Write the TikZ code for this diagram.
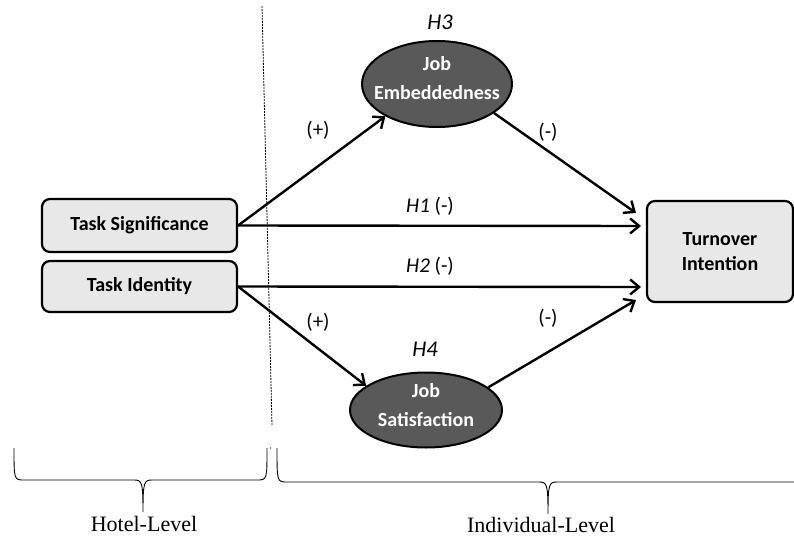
\documentclass[tikz,border=0pt]{standalone}
\usepackage{fontspec}
\setmainfont{Liberation Serif}
\newfontfamily\carlitofont{Carlito}
\usetikzlibrary{shapes.geometric,arrows.meta}
\definecolor{boxgray}{HTML}{E8E8E8}
\definecolor{ellgray}{HTML}{595959}
\begin{document}
\begin{tikzpicture}[x=1pt,y=-1pt,
  box/.style={draw=black,line width=2.2pt,rounded corners=8pt,fill=boxgray,
    font=\carlitofont\fontsize{20}{25}\selectfont\bfseries,align=center,inner sep=0pt},
  ell/.style={draw=black,line width=2pt,ellipse,fill=ellgray,inner sep=0pt},
  elltext/.style={text=white,font=\carlitofont\fontsize{20}{29}\selectfont\bfseries,align=center,inner sep=0pt},
  conn/.style={line width=2.4pt,-{Straight Barb[length=9pt,width=15pt,line width=2.4pt]}},
  lab/.style={font=\carlitofont\fontsize{21}{24}\selectfont},
  hyp/.style={font=\carlitofont\fontsize{22.5}{25}\selectfont\itshape},
  lvl/.style={font=\fontsize{22}{25}\selectfont}]
\useasboundingbox (0,0) rectangle (794,537);
% boxes
\node[box,minimum width=195pt,minimum height=53pt] (TS) at (139.5,225.5) {Task Significance};
\node[box,minimum width=195pt,minimum height=51pt] (TId) at (139.5,286.5) {Task Identity};
\node[box,minimum width=146pt,minimum height=101pt] (TI) at (720,251.5) {Turnover\\Intention};
\node[ell,minimum width=150pt,minimum height=86pt] (JE) at (437,84) {};
\node[elltext] (JEt) at (437,78) {Job\\Embeddedness};
\node[ell,minimum width=152pt,minimum height=75pt] (JS) at (426,410) {};
\node[elltext] (JSt) at (426,405) {Job\\Satisfaction};
% hypothesis labels
\node[hyp] (h3) at (440,22) {H3};
\node[hyp] (h4) at (425,349) {H4};
\node[lab] (h1) at (430,206) {\textit{H1} (-)};
\node[lab] (h2) at (430,266) {\textit{H2} (-)};
\node[lab] (p1) at (318,130) {(+)};
\node[lab] (p2) at (318,322) {(+)};
\node[lab] (m1) at (548,132) {(-)};
\node[lab] (m2) at (548,318) {(-)};
% endpoints
\coordinate (e1) at (636,213);
\coordinate (e2) at (636,300);
\coordinate (e3) at (641,226);
\coordinate (e4) at (641,287);
% dashed divider
\coordinate (d1) at (262,6);
\coordinate (d2) at (272,426);
\draw[dashed,dash pattern=on 2pt off 1pt,line width=0.8pt] (d1) -- (d2);
\fill (270.5,448) circle (0.7pt);
% connectors
\draw[conn] (TS.east) -- (JE.212);
\draw[conn] (TS.east) -- (e3);
\draw[conn] (TId.east) -- (e4);
\draw[conn] (TId.east) -- (JS.158);
\draw[conn] (JE.333) -- (e1);
\draw[conn] (JS.20) -- (e2);
% braces
\draw[line width=0.9pt] (14,448) .. controls (14,480) and (14,480) .. (24,480) -- (134,480)
  .. controls (142,480) and (143,482) .. (143,512)
  .. controls (143,482) and (144,480) .. (152,480) -- (257,480)
  .. controls (267,480) and (267,480) .. (267,448);
\draw[line width=0.9pt] (277,448) .. controls (277,482) and (277,482) .. (287,482) -- (539,482)
  .. controls (547,482) and (548,484) .. (548,514)
  .. controls (548,484) and (549,482) .. (557,482) -- (794,482);
\node[lvl] (hl) at (144,524) {Hotel-Level};
\node[lvl] (il) at (541,525) {Individual-Level};
\end{tikzpicture}
\end{document}
